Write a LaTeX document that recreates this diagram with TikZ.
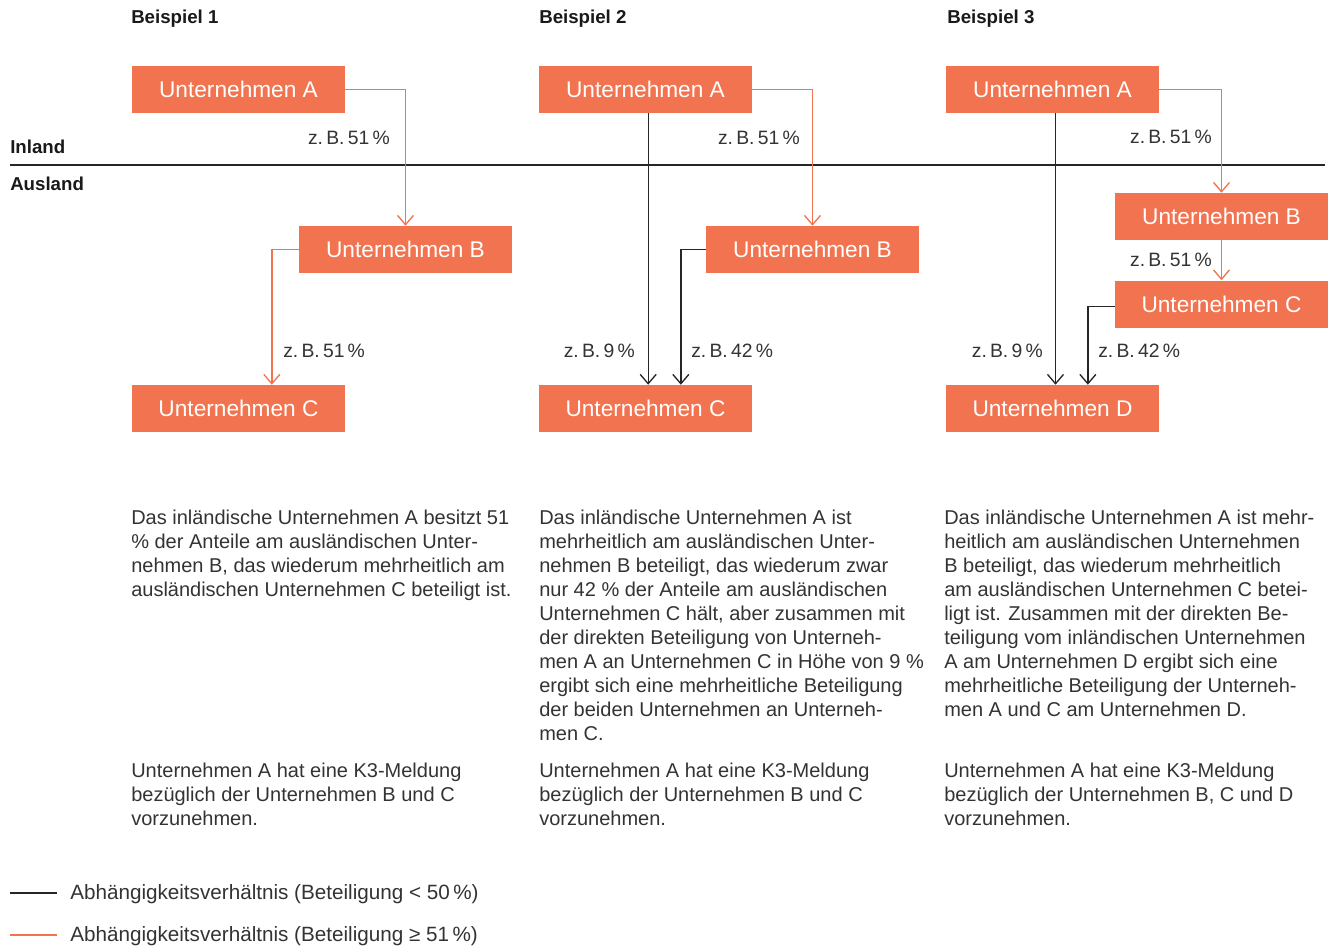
\documentclass[tikz,border=0pt]{standalone}
\usepackage{fontspec}
\setmainfont{Liberation Sans}
\usetikzlibrary{arrows.meta}
\definecolor{firmorange}{HTML}{F2734F}
\definecolor{textgrey}{HTML}{333333}

\begin{document}
\begin{tikzpicture}[x=0.75pt, y=-0.75pt,
  firm/.style = {fill=firmorange, text=white, minimum width=159.75pt, minimum height=35.25pt, inner sep=0pt, font=\fontsize{17}{19}\selectfont},
  share/.style = {text=textgrey, inner sep=0pt, font=\fontsize{14.5}{17}\selectfont},
  major/.style = {draw=firmorange, line width=1pt, -{Straight Barb[length=7pt,width=12pt]}},
  minor/.style = {draw=black!85, line width=1pt, -{Straight Barb[length=7pt,width=12pt]}},
  head/.style = {inner sep=0pt, anchor=west, text=black!90, font=\fontsize{14}{16}\selectfont\bfseries},
  para/.style = {inner sep=0pt, anchor=north west, align=left, text=textgrey, font=\fontsize{15}{18}\selectfont}]
\useasboundingbox (0,0) rectangle (1333,947);

% Kopfzeile und Grenze
\node[head] (h1) at (131,19) {Beispiel 1};
\node[head] (h2) at (539,19) {Beispiel 2};
\node[head] (h3) at (947,19) {Beispiel 3};
\node[head] (in) at (10,147) {Inland};
\node[head] (aus) at (10,184) {Ausland};
\draw[black!85, line width=1pt] (10,165) -- (1325,165);

% Beispiel 1
\node[firm] (a1) at (238.5,89.5) {Unternehmen A};
\node[firm] (b1) at (405.5,249.5) {Unternehmen B};
\node[firm] (c1) at (238.5,408.5) {Unternehmen C};
\draw[major] (a1.east) -| (b1.north);
\draw[major] (b1.west) -| ([xshift=25pt]c1.north);
\node[share, anchor=east] (p1ab) at (390,138) {z.\,B.\,51\,\%};
\node[share, anchor=west] (p1bc) at (283,351) {z.\,B.\,51\,\%};

% Beispiel 2
\node[firm] (a2) at (645.5,89.5) {Unternehmen A};
\node[firm] (b2) at (812.5,249.5) {Unternehmen B};
\node[firm] (c2) at (645.5,408.5) {Unternehmen C};
\draw[major] (a2.east) -| (b2.north);
\draw[minor] ([xshift=2pt]a2.south) -- ([xshift=2pt]c2.north);
\draw[minor] (b2.west) -| ([xshift=26.5pt]c2.north);
\node[share, anchor=east] (p2ab) at (800,138) {z.\,B.\,51\,\%};
\node[share, anchor=east] (p2ac) at (635,351) {z.\,B.\,9\,\%};
\node[share, anchor=west] (p2bc) at (691,351) {z.\,B.\,42\,\%};

% Beispiel 3
\node[firm] (a3) at (1052.5,89.5) {Unternehmen A};
\node[firm] (b3) at (1221.5,216.5) {Unternehmen B};
\node[firm] (c3) at (1221.5,304) {Unternehmen C};
\node[firm] (d3) at (1052.5,408.5) {Unternehmen D};
\draw[major] (a3.east) -| (b3.north);
\draw[major] (b3.south) -- (c3.north);
\draw[minor] ([xshift=2.25pt]a3.south) -- ([xshift=2.25pt]d3.north);
\draw[minor] ([yshift=-2pt]c3.west) -| ([xshift=26.5pt]d3.north);
\node[share, anchor=east] (p3ab) at (1212,137) {z.\,B.\,51\,\%};
\node[share, anchor=east] (p3bc) at (1212,260) {z.\,B.\,51\,\%};
\node[share, anchor=east] (p3ad) at (1043,351) {z.\,B.\,9\,\%};
\node[share, anchor=west] (p3cd) at (1098,351) {z.\,B.\,42\,\%};

% Erläuterungen
\node[para] (t1) at (131,510) {Das inländische Unternehmen A besitzt 51\\
\% der Anteile am ausländischen Unter-\\
nehmen B, das wiederum mehrheitlich am\\
ausländischen Unternehmen C beteiligt ist.};
\node[para] (t2) at (539,510) {Das inländische Unternehmen A ist\\
mehrheitlich am ausländischen Unter-\\
nehmen B beteiligt, das wiederum zwar\\
nur 42 \% der Anteile am ausländischen\\
Unternehmen C hält, aber zusammen mit\\
der direkten Beteiligung von Unterneh-\\
men A an Unternehmen C in Höhe von 9 \%\\
ergibt sich eine mehrheitliche Beteiligung\\
der beiden Unternehmen an Unterneh-\\
men C.};
\node[para] (t3) at (944,510) {Das inländische Unternehmen A ist mehr-\\
heitlich am ausländischen Unternehmen\\
B beteiligt, das wiederum mehrheitlich\\
am ausländischen Unternehmen C betei-\\
ligt ist. Zusammen mit der direkten Be-\\
teiligung vom inländischen Unternehmen\\
A am Unternehmen D ergibt sich eine\\
mehrheitliche Beteiligung der Unterneh-\\
men A und C am Unternehmen D.};
\node[para] (m1) at (131,763) {Unternehmen A hat eine K3-Meldung\\
bezüglich der Unternehmen B und C\\
vorzunehmen.};
\node[para] (m2) at (539,763) {Unternehmen A hat eine K3-Meldung\\
bezüglich der Unternehmen B und C\\
vorzunehmen.};
\node[para] (m3) at (944,763) {Unternehmen A hat eine K3-Meldung\\
bezüglich der Unternehmen B, C und D\\
vorzunehmen.};

% Legende
\draw[black!85, line width=1pt] (10,893) -- (57,893);
\draw[firmorange, line width=1pt] (10,935) -- (57,935);
\node[para, anchor=west, font=\fontsize{15.5}{18}\selectfont] (l1) at (70,894) {Abhängigkeitsverhältnis (Beteiligung < 50\,\%)};
\node[para, anchor=west, font=\fontsize{15.5}{18}\selectfont] (l2) at (70,936) {Abhängigkeitsverhältnis (Beteiligung ≥ 51\,\%)};
\end{tikzpicture}
\end{document}
